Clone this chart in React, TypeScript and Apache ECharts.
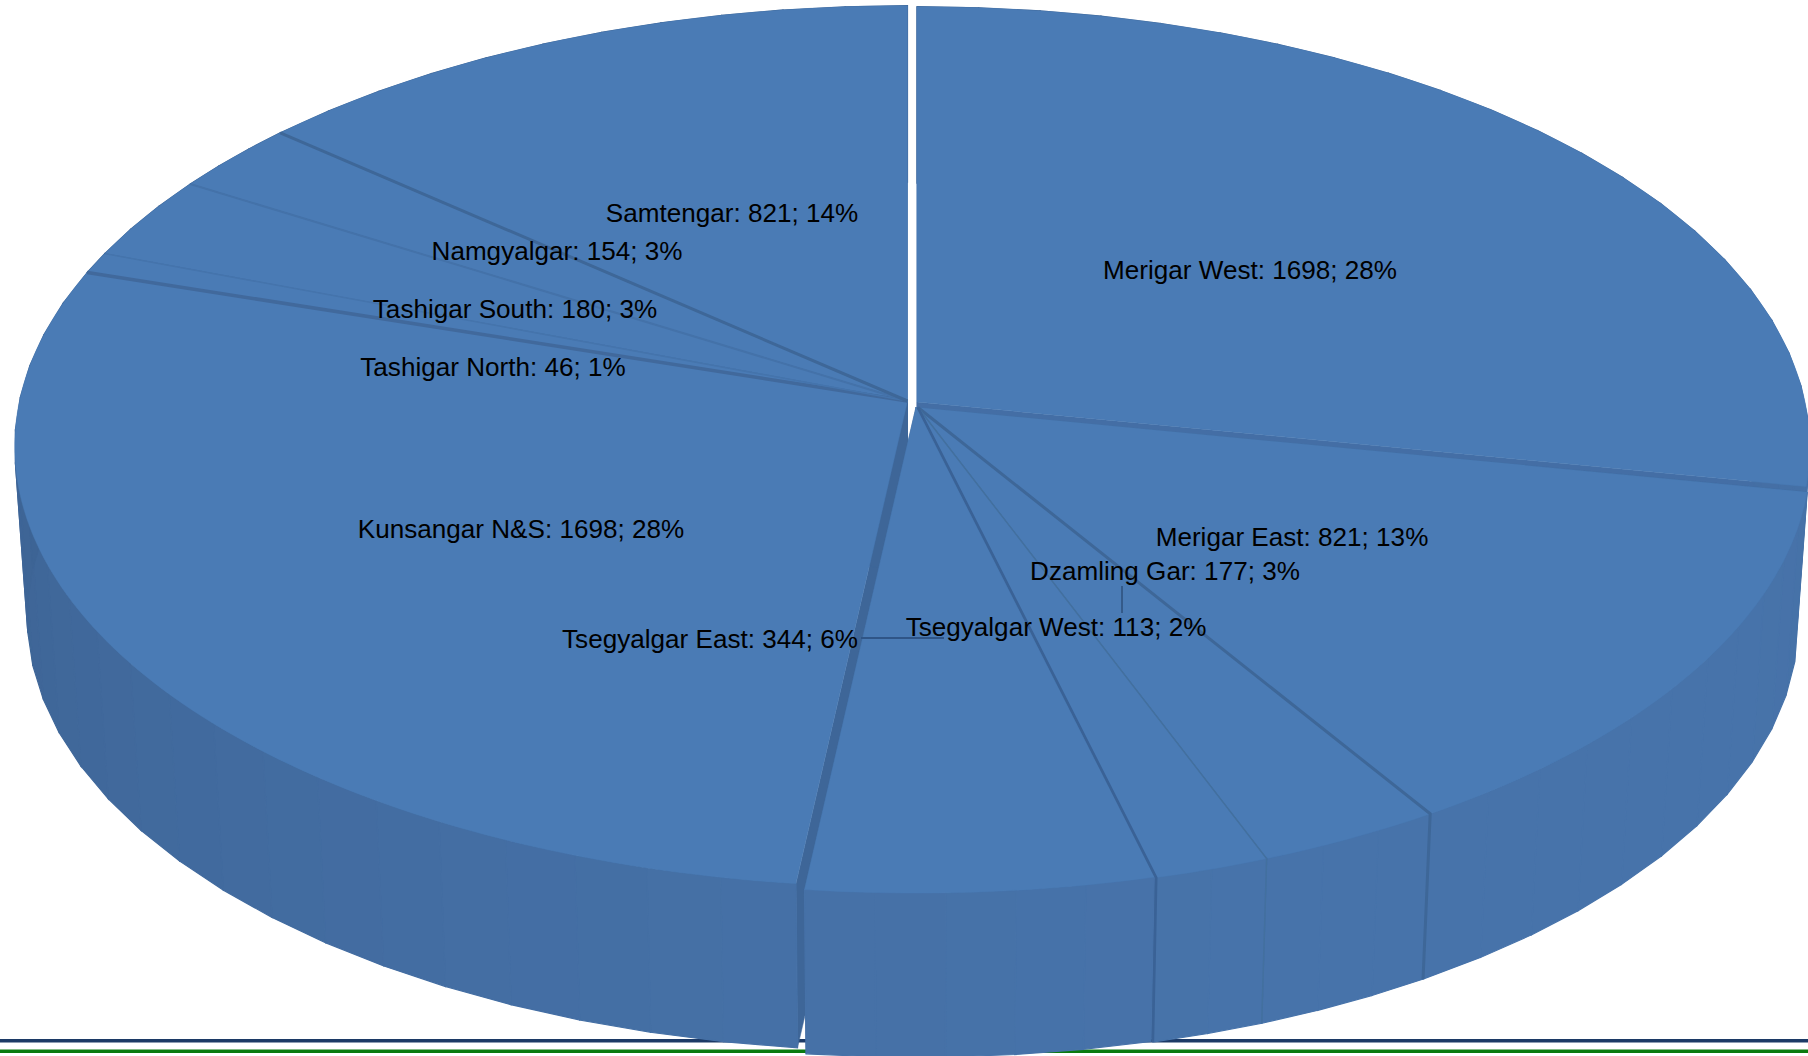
import React, { useEffect, useRef } from "react";
import * as echarts from "echarts";

// Data, clockwise from 12 o'clock
const categories = ["Merigar West", "Merigar East", "Dzamling Gar", "Tsegyalgar West", "Tsegyalgar East", "Kunsangar N&S", "Tashigar North", "Tashigar South", "Namgyalgar", "Samtengar"];
const values = [1698, 821, 177, 113, 344, 1698, 46, 180, 154, 821];
const percents = [28, 13, 3, 2, 6, 28, 1, 3, 3, 14];

// Styling and layout (not data)
const explodeX = [9.5, 10.5, 10.5, 10.5, 8.5, 0, 0, 0, 0, 0];
const explodeY = [1, 6.5, 6.5, 6.5, 6, 0, 0, 0, 0, 0];
const edgeWidths = [0, 3, 1.5, 2.5, 0, 3.5, 1.5, 2, 3, 0];
const edgeColors = ["", "#3E6798", "#43709F", "#3A6296", "", "#41699C", "#4574AC", "#4472A9", "#3E6798", ""];
const radialColors = ["#446EA5", "#3F6798", "#3F6798", "#3F6798", "#3F6798", "#3E6698", "#3F6798", "#3F6798", "#3F6798", "#3F6798"];
const labelX = [1250, 1292, 1165, 1056, 710, 521, 493, 515, 557, 732];
const labelY = [270, 537, 571, 627, 639, 529, 367, 309, 251, 213];

const W = 1808, H = 1056;
const CX = 907.5, CY = 401, A = 436, B = 888, P = 0.103, DEPTH = 171, LOWER = 0.986;
const TOP = "#4A7BB5";
const RAD = Math.PI / 180;

const total = values.reduce((s, v) => s + v, 0);
const bounds: number[] = [0];
values.forEach((v) => bounds.push(bounds[bounds.length - 1] + (v / total) * 360));

// Small correction of the view's skew: the drawn rim is a little off a pure perspective circle
function warp(deg: number): number {
  const c = Math.max(0, -Math.cos(deg * RAD));
  return 1.1 * c * c + 0.8 * Math.exp(-Math.pow((deg - 148) / 10, 2)) + 0.9 * Math.exp(-Math.pow((deg - 285) / 18, 2));
}

function project(deg: number, i: number, lower: boolean): number[] {
  const t = (deg - warp(deg)) * RAD;
  const w = 1 + P * Math.cos(t);
  let x = (B * Math.sin(t)) / w;
  let y = (-A * Math.cos(t)) / w;
  if (lower) { x *= LOWER; y = y * LOWER + DEPTH; }
  return [CX + explodeX[i] + x, CY + explodeY[i] + y];
}

function wallColor(deg: number): string {
  // side walls darken towards the far left, and are lightest at the front
  const s = Math.sin(deg * RAD);
  const c = Math.cos(deg * RAD);
  const k = Math.max(0, Math.min(1, 0.5 + 0.5 * (-c * 0.8 + s * 0.7)));
  const r = Math.round(60 + (71 - 60) * k);
  const g = Math.round(98 + (115 - 98) * k);
  const b = Math.round(146 + (170 - 146) * k);
  return `rgb(${r},${g},${b})`;
}

function arcAngles(a0: number, a1: number, step: number): number[] {
  const n = Math.max(1, Math.ceil((a1 - a0) / step));
  const out: number[] = [];
  for (let k = 0; k <= n; k++) out.push(a0 + ((a1 - a0) * k) / n);
  return out;
}

function sliceChildren(i: number) {
  const a0 = bounds[i], a1 = bounds[i + 1];
  const apex = [CX + explodeX[i], CY + explodeY[i]];
  const apexLow = [apex[0], apex[1] + DEPTH];
  const kids: any[] = [];
  const radial = (deg: number) => ({
    type: "polygon", silent: true,
    shape: { points: [apex, project(deg, i, false), project(deg, i, true), apexLow] },
    style: { fill: radialColors[i], stroke: radialColors[i], lineWidth: 0.5 },
  });
  kids.push(radial(a0));
  kids.push(radial(a1));
  const wa = arcAngles(a0, a1, 4.5);
  for (let k = 0; k < wa.length - 1; k++) {
    const col = wallColor((wa[k] + wa[k + 1]) / 2);
    kids.push({
      type: "polygon", silent: true,
      shape: { points: [project(wa[k], i, false), project(wa[k + 1], i, false), project(wa[k + 1], i, true), project(wa[k], i, true)] },
      style: { fill: col, stroke: col, lineWidth: 1.2 },
    });
  }
  kids.push({
    type: "polygon", silent: true,
    shape: { points: [apex, ...arcAngles(a0, a1, 1).map((a) => project(a, i, false))] },
    style: { fill: TOP, stroke: TOP, lineWidth: 0.4 },
  });
  return kids;
}

const order = values
  .map((_, i) => i)
  .sort((p, q) => Math.cos(((bounds[q] + bounds[q + 1]) / 2) * RAD) - Math.cos(((bounds[p] + bounds[p + 1]) / 2) * RAD));

export default function App() {
  const ref = useRef<HTMLDivElement>(null);
  useEffect(() => {
    document.body.style.margin = "0";
    document.body.style.overflow = "hidden";
    const chart = echarts.init(ref.current!, null, { renderer: "svg" });
    chart.setOption({
      animation: false,
      backgroundColor: "#ffffff",
      graphic: {
        z: -10,
        elements: [
          { type: "rect", z: -10, silent: true, shape: { x: 0, y: 1039, width: W, height: 3.5 }, style: { fill: "#1C3A66" } },
          { type: "rect", z: -10, silent: true, shape: { x: 0, y: 1049.5, width: W, height: 3.5 }, style: { fill: "#0B7A0F" } },
        ],
      },
      series: [
        {
          type: "custom",
          coordinateSystem: "none",
          z: 2,
          silent: true,
          data: order.map((i) => [i]),
          renderItem: (_p: any, api: any) => ({ type: "group", children: sliceChildren(api.value(0)) }),
        },
        {
          type: "custom",
          coordinateSystem: "none",
          z: 3,
          silent: true,
          data: values.map((_, i) => [i]),
          renderItem: (_p: any, api: any) => {
            const i = api.value(0);
            const kids: any[] = [];
            const w = edgeWidths[i];
            if (w > 0) {
              const end = bounds[i + 1];
              const pts: number[][] = [[CX + explodeX[i], CY + explodeY[i]], project(end, i, false)];
              if (end > 100 && end < 260) pts.push(project(end, i, true));
              kids.push({ type: "polyline", silent: true, shape: { points: pts }, style: { stroke: edgeColors[i], lineWidth: w, fill: "none" } });
            }
            return { type: "group", children: kids };
          },
        },
        {
          type: "custom",
          coordinateSystem: "none",
          z: 4,
          silent: true,
          data: values.map((_, i) => [i]),
          renderItem: (_p: any, api: any) => {
            const i = api.value(0);
            return {
              type: "text", silent: true,
              style: {
                x: labelX[i], y: labelY[i],
                text: `${categories[i]}: ${values[i]}; ${percents[i]}%`,
                fill: "#000000", align: "center", verticalAlign: "middle",
                font: '26.1px "Liberation Sans"',
              },
            };
          },
        },
        {
          type: "custom",
          coordinateSystem: "none",
          z: 3,
          silent: true,
          data: [[861, 638, 944, 638, 2, "#2F5587"], [1122, 586, 1122, 613, 1, "#1F3A5F"]],
          renderItem: (_p: any, api: any) => ({
            type: "line", silent: true,
            shape: { x1: api.value(0), y1: api.value(1), x2: api.value(2), y2: api.value(3) },
            style: { stroke: api.value(5), lineWidth: api.value(4) },
          }),
        },
      ],
    });
    return () => chart.dispose();
  }, []);
  return <div ref={ref} style={{ position: "fixed", left: 0, top: 0, width: W, height: H }} />;
}
